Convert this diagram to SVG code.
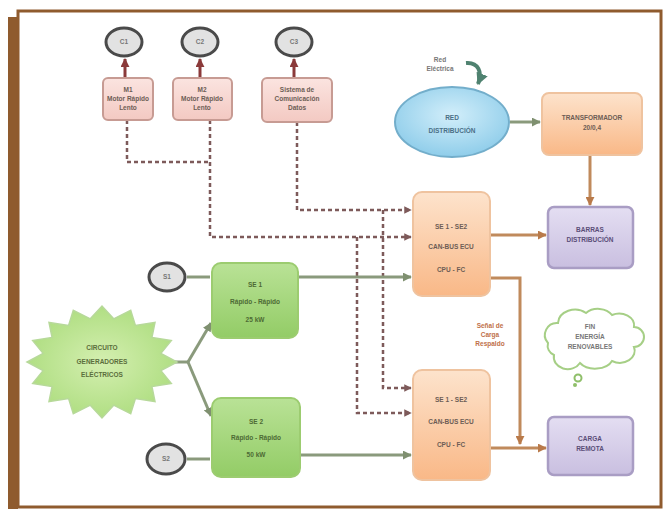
<svg xmlns="http://www.w3.org/2000/svg" width="664" height="511" viewBox="0 0 664 511">
<defs>
<linearGradient id="gOr" x1="0" y1="0" x2="0" y2="1"><stop offset="0" stop-color="#fde3cc"/><stop offset="1" stop-color="#f9b887"/></linearGradient>
<linearGradient id="gGr" x1="0" y1="0" x2="0" y2="1"><stop offset="0" stop-color="#b9e296"/><stop offset="1" stop-color="#93cc66"/></linearGradient>
<linearGradient id="gPu" x1="0" y1="0" x2="0" y2="1"><stop offset="0" stop-color="#e4def2"/><stop offset="1" stop-color="#c9bfe0"/></linearGradient>
<linearGradient id="gPk" x1="0" y1="0" x2="0" y2="1"><stop offset="0" stop-color="#fbe4e0"/><stop offset="1" stop-color="#f3c9c2"/></linearGradient>
<radialGradient id="gBl" cx="0.5" cy="0.4" r="0.6"><stop offset="0" stop-color="#d2eefa"/><stop offset="1" stop-color="#8fcdea"/></radialGradient>
<radialGradient id="gSt" cx="0.5" cy="0.5" r="0.6"><stop offset="0" stop-color="#d4efb0"/><stop offset="1" stop-color="#a9db7a"/></radialGradient>
<marker id="aR" viewBox="0 0 10 10" refX="9" refY="5" markerWidth="3" markerHeight="3" orient="auto"><path d="M0,0L10,5L0,10z" fill="#8b3a3a"/></marker>
<marker id="aD" viewBox="0 0 10 10" refX="9" refY="5" markerWidth="3" markerHeight="3" orient="auto"><path d="M0,0L10,5L0,10z" fill="#7d5a5a"/></marker>
<marker id="aG" viewBox="0 0 10 10" refX="9" refY="5" markerWidth="3" markerHeight="3" orient="auto"><path d="M0,0L10,5L0,10z" fill="#7f9070"/></marker>
<marker id="aO" viewBox="0 0 10 10" refX="9" refY="5" markerWidth="3" markerHeight="3" orient="auto"><path d="M0,0L10,5L0,10z" fill="#b97a4a"/></marker>
<marker id="aT" viewBox="0 0 10 10" refX="9" refY="5" markerWidth="3" markerHeight="3" orient="auto"><path d="M0,0L10,5L0,10z" fill="#4f8270"/></marker>
</defs>
<style>
text{font-family:"Liberation Sans",Arial,sans-serif;font-size:6.5px;font-weight:bold;text-anchor:middle;fill:#6d5d55}
.cir{fill:#e2e2e2;stroke:#4a4a4a;stroke-width:3}
.pk{fill:url(#gPk);stroke:#c79b93;stroke-width:2}
.or{fill:url(#gOr);stroke:#efc39f;stroke-width:2}
.gr{fill:url(#gGr);stroke:#9ccc70;stroke-width:2}
.pu{fill:url(#gPu);stroke:#a99dc4;stroke-width:2.5}
.red{stroke:#8b3a3a;stroke-width:3;fill:none}
.dash{stroke:#7d5a5a;stroke-width:2.5;fill:none;stroke-dasharray:4 3}
.gl{stroke:#8a9a7c;stroke-width:3;fill:none}
.ol{stroke:#c08a5c;stroke-width:3;fill:none}
.sm{fill:#777}
</style>
<rect width="664" height="511" fill="#ffffff"/>
<g id="frame">
<rect x="8" y="17" width="10" height="492" fill="#8f5b2e"/>
<rect x="18" y="11" width="643" height="496" fill="none" stroke="#8f5b2e" stroke-width="3"/>
</g>
<g id="connectors">
<line class="red" x1="125" y1="78" x2="125" y2="59" marker-end="url(#aR)"/>
<line class="red" x1="200" y1="78" x2="200" y2="59" marker-end="url(#aR)"/>
<line class="red" x1="294" y1="78" x2="294" y2="59" marker-end="url(#aR)"/>
<path class="dash" d="M127,120V162H208"/>
<path class="dash" d="M210,120V237H411" marker-end="url(#aD)"/>
<path class="dash" d="M297,122V210H411" marker-end="url(#aD)"/>
<path class="dash" d="M357,237V413H411" marker-end="url(#aD)"/>
<path class="dash" d="M383,210V388H411" marker-end="url(#aD)"/>
<line class="gl" x1="187" y1="277" x2="210" y2="277"/>
<line class="gl" x1="187" y1="459" x2="210" y2="459"/>
<line class="gl" x1="175" y1="362" x2="188" y2="362"/>
<line class="gl" x1="188" y1="362" x2="211" y2="323" marker-end="url(#aG)"/>
<line class="gl" x1="188" y1="362" x2="211" y2="416" marker-end="url(#aG)"/>
<line class="gl" x1="298" y1="277" x2="411" y2="277" marker-end="url(#aG)"/>
<line class="gl" x1="300" y1="455" x2="411" y2="455" marker-end="url(#aG)"/>
<line class="gl" x1="510" y1="122" x2="540" y2="122" marker-end="url(#aG)"/>
<line class="ol" x1="590" y1="155" x2="590" y2="205" marker-end="url(#aO)"/>
<line class="ol" x1="490" y1="235" x2="546" y2="235" marker-end="url(#aO)"/>
<path class="ol" d="M490,278H520V444" marker-end="url(#aO)"/>
<line class="ol" x1="490" y1="448" x2="546" y2="448" marker-end="url(#aO)"/>
<path d="M466,63C478,62 483,72 478,84" stroke="#4f8270" stroke-width="4" fill="none" marker-end="url(#aT)"/>
</g>
<g id="c1"><ellipse class="cir" cx="124" cy="42" rx="18" ry="14"/><text x="124" y="44" class="sm">C1</text></g>
<g id="c2"><ellipse class="cir" cx="200" cy="42" rx="18" ry="14"/><text x="200" y="44" class="sm">C2</text></g>
<g id="c3"><ellipse class="cir" cx="294" cy="42" rx="18" ry="14"/><text x="294" y="44" class="sm">C3</text></g>
<g id="p1"><rect class="pk" x="103" y="78" width="50" height="42" rx="5"/><text x="128" y="92">M1</text><text x="128" y="101">Motor Rápido</text><text x="128" y="110">Lento</text></g>
<g id="p2"><rect class="pk" x="173" y="78" width="59" height="42" rx="5"/><text x="202" y="92">M2</text><text x="202" y="101">Motor Rápido</text><text x="202" y="110">Lento</text></g>
<g id="p3"><rect class="pk" x="262" y="78" width="70" height="44" rx="5"/><text x="297" y="92">Sistema de</text><text x="297" y="101">Comunicación</text><text x="297" y="110">Datos</text></g>
<g id="redlabel"><text x="440" y="62" class="sm">Red</text><text x="440" y="71" class="sm">Eléctrica</text></g>
<g id="blue"><ellipse cx="452" cy="122" rx="57" ry="35" fill="url(#gBl)" stroke="#73aecb" stroke-width="2"/><text x="452" y="120" style="fill:#4a6f86">RED</text><text x="452" y="133" style="fill:#4a6f86">DISTRIBUCIÓN</text></g>
<g id="trafo"><rect class="or" x="542" y="93" width="100" height="62" rx="7"/><text x="592" y="120">TRANSFORMADOR</text><text x="592" y="130">20/0,4</text></g>
<g id="bar"><rect class="pu" x="548" y="207" width="85" height="61" rx="6"/><text x="590" y="232" style="fill:#5a4e78">BARRAS</text><text x="590" y="242" style="fill:#5a4e78">DISTRIBUCIÓN</text></g>
<g id="o1"><rect class="or" x="413" y="192" width="77" height="104" rx="9"/><text x="451" y="229">SE 1 - SE2</text><text x="451" y="249">CAN-BUS ECU</text><text x="451" y="272">CPU - FC</text></g>
<g id="o2"><rect class="or" x="413" y="370" width="77" height="110" rx="9"/><text x="451" y="402">SE 1 - SE2</text><text x="451" y="424">CAN-BUS ECU</text><text x="451" y="447">CPU - FC</text></g>
<g id="sig"><text x="490" y="328" style="fill:#c0704a">Señal de</text><text x="490" y="337" style="fill:#c0704a">Carga</text><text x="490" y="346" style="fill:#c0704a">Respaldo</text></g>
<g id="cloud"><path d="M548,343a12,12 0 0 1 10,-20a17,14 0 0 1 28,-10a16,12 0 0 1 26,2a15,12 0 0 1 22,12a10,10 0 0 1 0,20a15,12 0 0 1 -22,14a18,12 0 0 1 -32,2a14,12 0 0 1 -26,-8a10,10 0 0 1 -6,-12z" fill="#ffffff" stroke="#a6cf86" stroke-width="2"/><circle cx="578" cy="378" r="3.5" fill="#ffffff" stroke="#8fbf6a" stroke-width="2"/><circle cx="575" cy="385" r="2" fill="#8fbf6a"/><text x="590" y="329" class="sm">FIN</text><text x="590" y="339" class="sm">ENERGÍA</text><text x="590" y="349" class="sm">RENOVABLES</text></g>
<g id="carga"><rect class="pu" x="548" y="417" width="85" height="58" rx="6"/><text x="590" y="441" style="fill:#5a4e78">CARGA</text><text x="590" y="451" style="fill:#5a4e78">REMOTA</text></g>
<g id="s1"><ellipse class="cir" cx="167" cy="277" rx="18" ry="14"/><text x="167" y="279" class="sm">S1</text></g>
<g id="s2"><ellipse class="cir" cx="166" cy="459" rx="19" ry="15"/><text x="166" y="461" class="sm">S2</text></g>
<g id="g1"><rect class="gr" x="212" y="263" width="86" height="75" rx="9"/><text x="255" y="287" style="fill:#4d6a34">SE 1</text><text x="255" y="304" style="fill:#4d6a34">Rápido - Rápido</text><text x="255" y="322" style="fill:#4d6a34">25 kW</text></g>
<g id="g2"><rect class="gr" x="212" y="398" width="88" height="79" rx="9"/><text x="256" y="424" style="fill:#4d6a34">SE 2</text><text x="256" y="440" style="fill:#4d6a34">Rápido - Rápido</text><text x="256" y="457" style="fill:#4d6a34">50 kW</text></g>
<g id="star"><polygon points="177,362 160.9,370.6 171.3,383.4 151.9,386.5 155,401.6 135.4,398.6 130.7,413.7 113.7,405.2 102,418 90.3,405.2 73.3,413.7 68.6,398.6 49,401.6 52.1,386.5 32.7,383.4 43.1,370.6 27,362 43.1,353.4 32.7,340.6 52.1,337.5 49,322.4 68.6,325.4 73.3,310.3 90.3,318.8 102,306 113.7,318.8 130.7,310.3 135.4,325.4 155,322.4 151.9,337.5 171.3,340.6 160.9,353.4" fill="url(#gSt)" stroke="#b7d99a" stroke-width="1.5"/><text x="102" y="350" style="fill:#5b6e3c">CIRCUITO</text><text x="102" y="364" style="fill:#5b6e3c">GENERADORES</text><text x="102" y="377" style="fill:#5b6e3c">ELÉCTRICOS</text></g>
</svg>
